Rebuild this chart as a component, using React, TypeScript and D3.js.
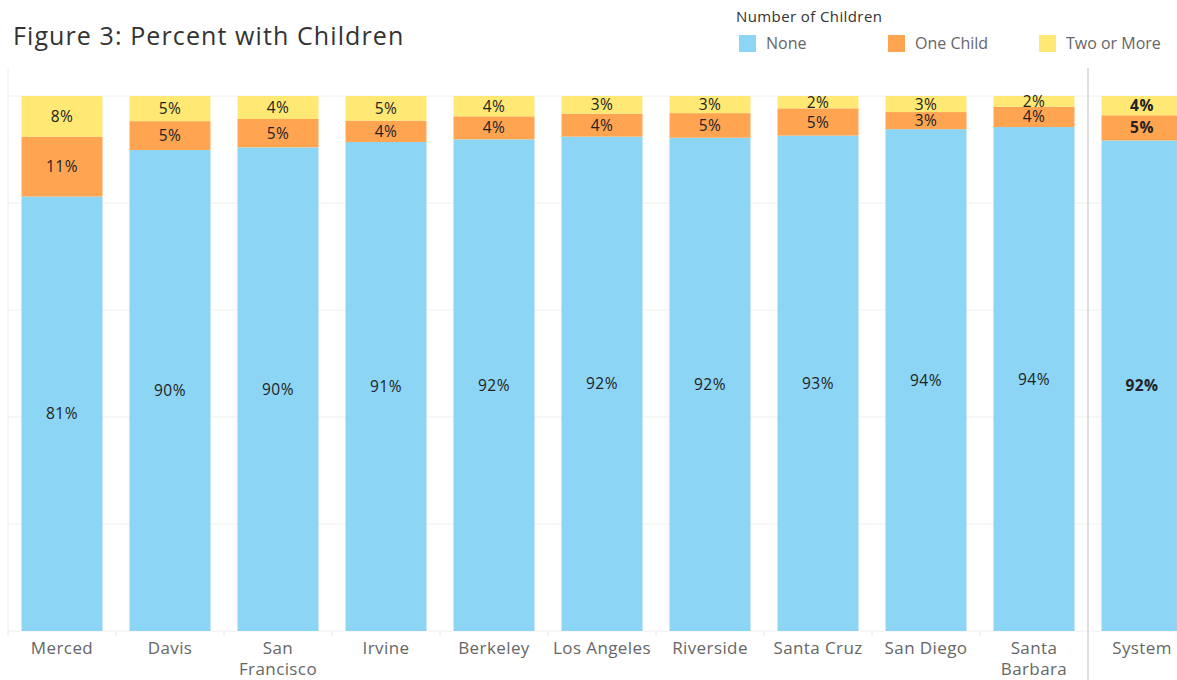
import React from 'react';
import * as d3 from 'd3';

// campus order, left to right; the last one sits in its own panel
const campuses = ['Merced', 'Davis', 'San Francisco', 'Irvine', 'Berkeley', 'Los Angeles', 'Riverside', 'Santa Cruz', 'San Diego', 'Santa Barbara'];
const systemName = 'System';
const campusLabelLines: string[][] = [
  ['Merced'], ['Davis'], ['San', 'Francisco'], ['Irvine'], ['Berkeley'],
  ['Los Angeles'], ['Riverside'], ['Santa Cruz'], ['San Diego'], ['Santa', 'Barbara'],
];

const seriesKeys = ['None', 'One Child', 'Two or More'];
const seriesColors = ['#8dd5f5', '#ffa552', '#ffe873'];

// percent of students
const noneValues = [81.2, 89.9, 90.4, 91.4, 91.9, 92.4, 92.2, 92.6, 93.8, 94.2];
const oneChildValues = [11.2, 5.4, 5.3, 4.0, 4.3, 4.3, 4.6, 5.1, 3.2, 3.8];
const twoPlusValues = [7.6, 4.7, 4.3, 4.6, 3.8, 3.3, 3.2, 2.3, 3.0, 2.0];
const systemValues = [91.7, 4.7, 3.6];

const yTicks = [0, 20, 40, 60, 80, 100];

const W = 1177;
const H = 680;
const font = '"Open Sans", sans-serif';

type Row = { name: string; [k: string]: number | string };

const rows: Row[] = campuses.map((c, i) => ({
  name: c,
  'None': noneValues[i],
  'One Child': oneChildValues[i],
  'Two or More': twoPlusValues[i],
}));
const systemRow: Row = {
  name: systemName,
  'None': systemValues[0],
  'One Child': systemValues[1],
  'Two or More': systemValues[2],
};

const App: React.FC = () => {
  const plotLeft = 8;
  const plotRight = 1088; // end of campus panel
  const plotTop = 68;
  const y = d3.scaleLinear().domain([0, 100]).range([631, 96]);

  const x = d3.scaleBand<string>()
    .domain(campuses)
    .range([plotLeft, plotRight])
    .paddingInner(0.25)
    .paddingOuter(0.125);
  const step = x.step();

  const xs = d3.scaleBand<string>()
    .domain([systemName])
    .range([plotRight, plotRight + step])
    .paddingInner(0.25)
    .paddingOuter(0.125);

  const stack = d3.stack<Row>().keys(seriesKeys).value((d, k) => d[k] as number);
  const stacked = stack(rows);
  const stackedSystem = stack([systemRow]);
  const fmt = (v: number) => `${Math.round(v)}%`;

  const renderBars = (series: d3.Series<Row, string>[], scale: d3.ScaleBand<string>, bold: boolean) =>
    series.map((s, si) => (
      <g key={s.key}>
        {s.map(d => {
          const x0 = scale(d.data.name)!;
          const y0 = y(d[1]);
          const h = y(d[0]) - y(d[1]);
          return (
            <g key={d.data.name}>
              <rect x={x0} y={y0} width={scale.bandwidth()} height={h} fill={seriesColors[si]} />
              <text
                x={x0 + scale.bandwidth() / 2}
                y={y0 + h / 2}
                dy="0.36em"
                textAnchor="middle"
                fontSize={15.5}
                letterSpacing={0.5}
                fontWeight={bold ? 700 : 400}
                fill="#222"
              >
                {fmt(d[1] - d[0])}
              </text>
            </g>
          );
        })}
      </g>
    ));

  const cellEdges = d3.range(campuses.length + 2).map(i => plotLeft + i * step);

  return (
    <svg width={W} height={H} style={{ position: 'absolute', left: 0, top: 0, fontFamily: font }}>
      <rect width={W} height={H} fill="#fff" />

      <text x={13} y={45} fontSize={25} letterSpacing={1.1} fill="#333">Figure 3: Percent with Children</text>

      {/* legend */}
      <text x={736} y={22} fontSize={15} letterSpacing={0.4} fill="#333">Number of Children</text>
      {seriesKeys.map((k, i) => {
        const lx = [739, 888, 1039][i];
        return (
          <g key={k} transform={`translate(${lx},35)`}>
            <rect width={17} height={17} fill={seriesColors[i]} />
            <text x={27} y={14} fontSize={16} fill="#666">{k}</text>
          </g>
        );
      })}

      {/* grid */}
      {yTicks.map(t => (
        <line key={t} x1={plotLeft} x2={W} y1={y(t)} y2={y(t)} stroke="#f0f0f0" strokeWidth={1} />
      ))}
      <line x1={plotLeft} x2={plotLeft} y1={plotTop} y2={632} stroke="#f0f0f0" />

      {renderBars(stacked, x, false)}
      {renderBars(stackedSystem, xs, true)}

      {/* panel separator */}
      <line x1={plotRight} x2={plotRight} y1={plotTop} y2={H} stroke="#d4d4d4" strokeWidth={1.5} />

      {/* category ticks */}
      {cellEdges.map(e => (
        <line key={e} x1={e} x2={e} y1={631} y2={636} stroke="#e6e6e6" />
      ))}

      {campuses.map((c, i) => (
        <text key={c} x={x(c)! + x.bandwidth() / 2} y={654} textAnchor="middle" fontSize={17} letterSpacing={0.4} fill="#666">
          {campusLabelLines[i].map((line, li) => (
            <tspan key={li} x={x(c)! + x.bandwidth() / 2} dy={li === 0 ? 0 : 21}>{line}</tspan>
          ))}
        </text>
      ))}
      <text x={xs(systemName)! + xs.bandwidth() / 2} y={654} textAnchor="middle" fontSize={17} letterSpacing={0.4} fill="#666">
        {systemName}
      </text>
    </svg>
  );
};

export default App;
